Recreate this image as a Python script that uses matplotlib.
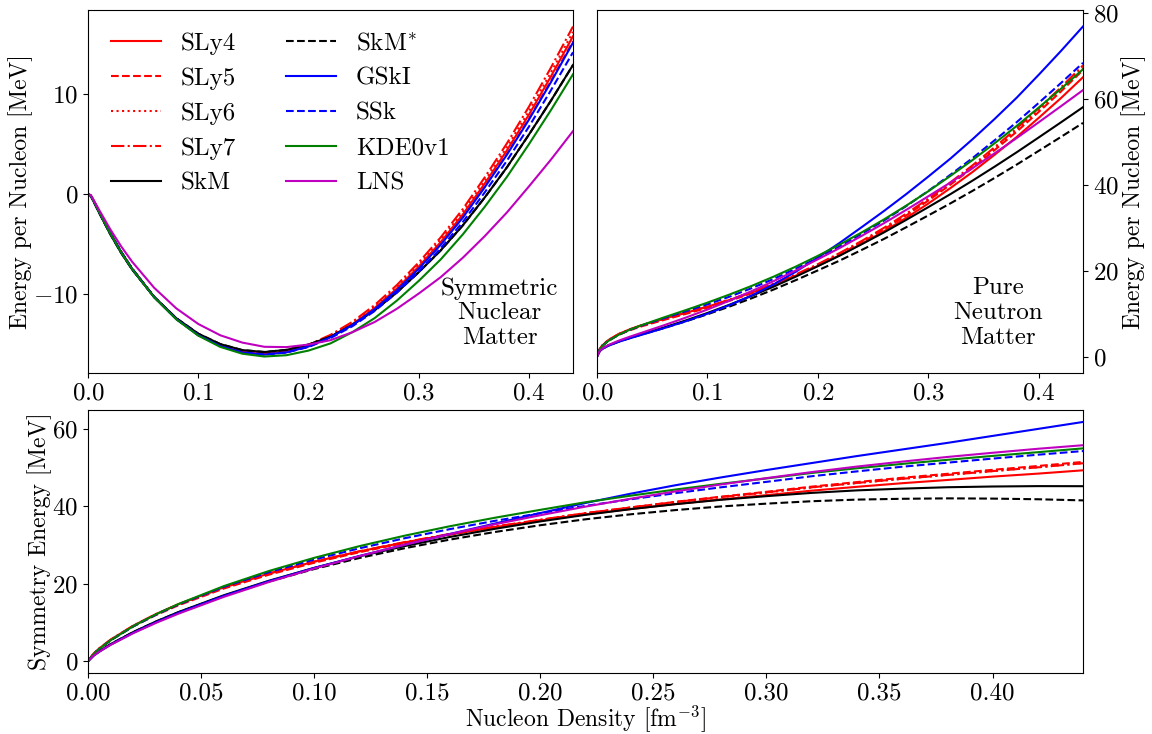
"""
Skyrme EOS comparison: symmetric matter, neutron matter, symmetry energy
"""

import matplotlib
matplotlib.use("Agg")
import matplotlib.pyplot as plt

plt.rcParams["font.family"] = "serif"
plt.rcParams["font.serif"] = ["cmr10"]
plt.rcParams["mathtext.fontset"] = "cm"
plt.rcParams["axes.formatter.use_mathtext"] = True
plt.rcParams["font.size"] = 18
plt.rcParams["axes.labelsize"] = 17

# nucleon density grid [fm^-3]
rho = [0.0, 0.0025, 0.005, 0.01, 0.02, 0.03, 0.04, 0.06, 0.08, 0.10, 0.12, 0.14, 0.16, 0.18,
       0.20, 0.22, 0.24, 0.26, 0.28, 0.30, 0.32, 0.34, 0.36, 0.38, 0.40, 0.42, 0.44]

# symmetric nuclear matter, E/A [MeV]
snm_sly4 = [0.0, -0.15, -0.66, -1.76, -3.86, -5.76, -7.45, -10.28, -12.45, -14.06, -15.15, -15.77, -15.97, -15.76,
            -15.18, -14.24, -12.98, -11.37, -9.45, -7.24, -4.79, -2.04, 1.06, 4.35, 7.92, 11.74, 15.75]
snm_sly5 = [0.0, -0.15, -0.65, -1.75, -3.84, -5.74, -7.42, -10.25, -12.42, -14.04, -15.14, -15.77, -15.98, -15.79,
            -15.23, -14.31, -13.07, -11.49, -9.60, -7.43, -5.02, -2.31, 0.75, 4.00, 7.52, 11.30, 15.27]
snm_sly6 = [0.0, -0.15, -0.66, -1.75, -3.85, -5.75, -7.44, -10.26, -12.43, -14.03, -15.12, -15.73, -15.92, -15.69,
            -15.10, -14.14, -12.86, -11.23, -9.29, -7.05, -4.57, -1.79, 1.34, 4.67, 8.27, 12.13, 16.18]
snm_sly7 = [0.0, -0.15, -0.66, -1.76, -3.86, -5.76, -7.45, -10.28, -12.45, -14.05, -15.12, -15.72, -15.89, -15.65,
            -15.03, -14.05, -12.74, -11.08, -9.10, -6.83, -4.32, -1.50, 1.68, 5.05, 8.71, 12.62, 16.72]
snm_skm = [0.0, -0.19, -0.73, -1.85, -3.97, -5.86, -7.52, -10.27, -12.38, -13.93, -14.97, -15.57, -15.76, -15.55,
           -15.02, -14.24, -13.04, -11.60, -9.83, -7.80, -5.62, -3.13, -0.33, 2.66, 5.93, 9.32, 12.88]
snm_skms = [0.0, -0.19, -0.73, -1.85, -3.97, -5.86, -7.52, -10.27, -12.38, -13.93, -14.97, -15.57, -15.76, -15.55,
            -15.02, -14.24, -13.04, -11.60, -9.83, -7.80, -5.62, -3.13, -0.33, 2.66, 5.93, 9.32, 12.88]
snm_gski = [0.0, -0.15, -0.66, -1.76, -3.86, -5.76, -7.45, -10.28, -12.46, -14.08, -15.18, -15.81, -16.02, -15.80,
            -15.21, -14.29, -13.06, -11.49, -9.61, -7.45, -5.05, -2.35, 0.69, 3.92, 7.42, 11.17, 15.11]
snm_ssk = [0.0, -0.15, -0.66, -1.76, -3.86, -5.76, -7.45, -10.28, -12.46, -14.08, -15.18, -15.80, -16.00, -15.81,
           -15.26, -14.37, -13.18, -11.67, -9.85, -7.74, -5.41, -2.79, 0.18, 3.32, 6.72, 10.36, 14.15]
snm_kde = [0.0, -0.17, -0.69, -1.79, -3.90, -5.80, -7.48, -10.30, -12.49, -14.12, -15.25, -15.93, -16.21, -16.08,
           -15.62, -14.90, -13.77, -12.38, -10.65, -8.67, -6.52, -4.03, -1.26, 1.71, 4.97, 8.38, 11.95]
snm_lns = [0.0, -0.10, -0.57, -1.56, -3.48, -5.21, -6.75, -9.35, -11.40, -12.96, -14.09, -14.82, -15.24, -15.27,
           -15.02, -14.58, -13.78, -12.77, -11.46, -9.93, -8.29, -6.36, -4.19, -1.84, 0.76, 3.44, 6.28]

# pure neutron matter, E/A [MeV]
pnm_sly4 = [0.0, 1.77, 2.61, 3.77, 5.28, 6.36, 7.24, 8.75, 10.15, 11.59, 13.16, 14.86, 16.74, 18.82,
            21.09, 23.60, 26.27, 29.16, 32.27, 35.59, 39.19, 42.93, 46.94, 51.08, 55.54, 60.11, 64.97]
pnm_sly5 = [0.0, 1.73, 2.54, 3.65, 5.10, 6.13, 6.99, 8.47, 9.88, 11.34, 12.96, 14.72, 16.68, 18.84,
            21.21, 23.82, 26.60, 29.60, 32.83, 36.28, 40.00, 43.88, 48.03, 52.32, 56.92, 61.64, 66.64]
pnm_sly6 = [0.0, 1.76, 2.59, 3.73, 5.21, 6.27, 7.13, 8.62, 10.03, 11.49, 13.09, 14.85, 16.80, 18.95,
            21.32, 23.94, 26.73, 29.75, 33.00, 36.47, 40.23, 44.15, 48.35, 52.69, 57.35, 62.14, 67.23]
pnm_sly7 = [0.0, 1.77, 2.62, 3.77, 5.27, 6.34, 7.22, 8.72, 10.14, 11.61, 13.22, 14.98, 16.95, 19.11,
            21.49, 24.12, 26.93, 29.97, 33.24, 36.73, 40.52, 44.47, 48.70, 53.08, 57.78, 62.61, 67.74]
pnm_skm = [0.0, 1.29, 1.82, 2.53, 3.53, 4.36, 5.14, 6.71, 8.36, 10.13, 12.05, 14.10, 16.27, 18.59,
           21.02, 23.50, 26.17, 28.90, 31.80, 34.76, 37.78, 40.92, 44.17, 47.52, 50.98, 54.47, 58.01]
pnm_skms = [0.0, 1.29, 1.82, 2.53, 3.51, 4.32, 5.08, 6.57, 8.15, 9.82, 11.63, 13.55, 15.59, 17.77,
            20.04, 22.35, 24.84, 27.38, 30.08, 32.83, 35.63, 38.54, 41.55, 44.65, 47.86, 51.08, 54.35]
pnm_gski = [0.0, 1.25, 1.77, 2.47, 3.45, 4.26, 5.02, 6.55, 8.17, 9.95, 11.95, 14.20, 16.79, 19.73,
            23.03, 26.49, 30.16, 33.89, 37.79, 41.87, 46.05, 50.55, 55.27, 60.22, 65.57, 71.07, 76.78]
pnm_ssk = [0.0, 1.69, 2.49, 3.59, 5.09, 6.22, 7.17, 8.87, 10.49, 12.12, 13.92, 15.90, 18.05, 20.44,
           22.95, 25.67, 28.59, 31.66, 35.00, 38.53, 42.29, 46.16, 50.31, 54.52, 59.02, 63.61, 68.32]
pnm_kde = [0.0, 1.68, 2.47, 3.58, 5.10, 6.26, 7.25, 9.04, 10.76, 12.53, 14.42, 16.42, 18.59, 20.92,
           23.42, 26.09, 28.92, 31.92, 35.11, 38.46, 42.02, 45.71, 49.62, 53.65, 57.92, 62.27, 66.84]
pnm_lns = [0.0, 1.32, 1.88, 2.64, 3.72, 4.63, 5.49, 7.21, 9.01, 10.93, 13.00, 15.21, 17.54, 20.03,
           22.62, 25.28, 28.12, 31.04, 34.12, 37.28, 40.48, 43.83, 47.28, 50.83, 54.51, 58.22, 61.98]

# symmetry energy [MeV]
sym_sly4 = [0.0, 1.92, 3.27, 5.53, 9.14, 12.12, 14.69, 19.03, 22.60, 25.65, 28.31, 30.63, 32.70, 34.57,
            36.25, 37.86, 39.24, 40.55, 41.72, 42.82, 43.98, 44.97, 45.90, 46.73, 47.60, 48.37, 49.23]
sym_sly5 = [0.0, 1.88, 3.19, 5.40, 8.94, 11.87, 14.41, 18.72, 22.30, 25.38, 28.10, 30.49, 32.65, 34.60,
            36.40, 38.15, 39.65, 41.11, 42.43, 43.69, 45.02, 46.19, 47.30, 48.32, 49.35, 50.34, 51.40]
sym_sly6 = [0.0, 1.91, 3.25, 5.48, 9.06, 12.02, 14.57, 18.88, 22.46, 25.52, 28.21, 30.58, 32.71, 34.61,
            36.38, 38.10, 39.57, 41.00, 42.29, 43.50, 44.80, 45.94, 47.03, 48.02, 49.03, 50.01, 51.08]
sym_sly7 = [0.0, 1.92, 3.28, 5.53, 9.13, 12.10, 14.67, 19.00, 22.59, 25.66, 28.34, 30.70, 32.83, 34.73,
            36.48, 38.19, 39.65, 41.07, 42.34, 43.54, 44.84, 45.97, 47.04, 48.03, 49.02, 49.99, 51.05]
sym_skm = [0.0, 1.48, 2.55, 4.38, 7.50, 10.22, 12.66, 16.98, 20.74, 24.06, 27.02, 29.67, 32.03, 34.14,
           36.04, 37.74, 39.21, 40.50, 41.63, 42.56, 43.40, 44.05, 44.50, 44.86, 45.05, 45.15, 45.13]
sym_skms = [0.0, 1.48, 2.55, 4.38, 7.48, 10.18, 12.60, 16.84, 20.53, 23.75, 26.60, 29.12, 31.35, 33.32,
            35.06, 36.59, 37.88, 38.98, 39.91, 40.63, 41.25, 41.67, 41.88, 41.99, 41.93, 41.76, 41.47]
sym_gski = [0.0, 1.40, 2.43, 4.23, 7.31, 10.02, 12.47, 16.83, 20.63, 24.03, 27.13, 30.01, 32.80, 35.50,
            38.20, 40.80, 43.20, 45.40, 47.40, 49.30, 51.10, 52.90, 54.60, 56.30, 58.10, 59.90, 61.70]
sym_ssk = [0.0, 1.84, 3.15, 5.35, 8.95, 11.98, 14.62, 19.15, 22.95, 26.20, 29.10, 31.70, 34.05, 36.20,
           38.15, 40.05, 41.75, 43.35, 44.85, 46.25, 47.70, 48.95, 50.15, 51.20, 52.25, 53.25, 54.20]
sym_kde = [0.0, 1.84, 3.16, 5.38, 9.01, 12.06, 14.73, 19.34, 23.25, 26.64, 29.66, 32.36, 34.80, 37.00,
           39.03, 40.99, 42.69, 44.29, 45.76, 47.13, 48.54, 49.75, 50.88, 51.93, 52.94, 53.90, 54.89]
sym_lns = [0.0, 1.42, 2.45, 4.20, 7.20, 9.84, 12.24, 16.56, 20.41, 23.89, 27.09, 30.03, 32.78, 35.30,
           37.64, 39.86, 41.90, 43.81, 45.58, 47.21, 48.77, 50.19, 51.47, 52.67, 53.75, 54.78, 55.70]

labels = ["SLy4", "SLy5", "SLy6", "SLy7", "SkM", "SkM$^{*}$", "GSkI", "SSk", "KDE0v1", "LNS"]
snm = [snm_sly4, snm_sly5, snm_sly6, snm_sly7, snm_skm, snm_skms, snm_gski, snm_ssk, snm_kde, snm_lns]
pnm = [pnm_sly4, pnm_sly5, pnm_sly6, pnm_sly7, pnm_skm, pnm_skms, pnm_gski, pnm_ssk, pnm_kde, pnm_lns]
sym = [sym_sly4, sym_sly5, sym_sly6, sym_sly7, sym_skm, sym_skms, sym_gski, sym_ssk, sym_kde, sym_lns]

styles = [("r", "-"), ("r", "--"), ("r", ":"), ("r", "-."), ("k", "-"),
          ("k", "--"), ("b", "-"), ("b", "--"), ("g", "-"), ("m", "-")]

fig = plt.figure(figsize=(11.52, 7.34), dpi=100)
ax1 = fig.add_axes([0.0764, 0.4918, 0.4210, 0.4946])
ax2 = fig.add_axes([0.5182, 0.4918, 0.4219, 0.4946])
ax3 = fig.add_axes([0.0764, 0.0830, 0.8637, 0.3584])

for lab, (c, ls), e_snm, e_pnm, e_sym in zip(labels, styles, snm, pnm, sym):
    ax1.plot(rho, e_snm, color=c, linestyle=ls, linewidth=1.5, label=lab)
    ax2.plot(rho, e_pnm, color=c, linestyle=ls, linewidth=1.5)
    ax3.plot(rho, e_sym, color=c, linestyle=ls, linewidth=1.5)

for ax in (ax1, ax2, ax3):
    ax.set_xlim(0, 0.44)

ax1.set_xticks([0.0, 0.1, 0.2, 0.3, 0.4])
ax1.set_yticks([-10, 0, 10])
ax1.set_ylabel("Energy per Nucleon [MeV]", labelpad=0)
ax1.legend(ncol=2, frameon=False, loc="upper left")
ax1.text(0.849, 0.165, "Symmetric\nNuclear\nMatter", transform=ax1.transAxes,
         ha="center", va="center", multialignment="center", linespacing=1.15)

ax2.set_xticks([0.0, 0.1, 0.2, 0.3, 0.4])
ax2.set_yticks([0, 20, 40, 60, 80])
ax2.yaxis.tick_right()
ax2.yaxis.set_label_position("right")
ax2.set_ylabel("Energy per Nucleon [MeV]", labelpad=2)
ax2.text(0.825, 0.165, "Pure\nNeutron\nMatter", transform=ax2.transAxes,
         ha="center", va="center", multialignment="center", linespacing=1.15)

ax3.set_xticks([0.0, 0.05, 0.10, 0.15, 0.20, 0.25, 0.30, 0.35, 0.40])
ax3.set_xticklabels(["0.00", "0.05", "0.10", "0.15", "0.20", "0.25", "0.30", "0.35", "0.40"])
ax3.set_yticks([0, 20, 40, 60])
ax3.set_xlabel("Nucleon Density [fm$^{-3}$]", labelpad=-1)
ax3.set_ylabel("Symmetry Energy [MeV]", labelpad=0)

fig.savefig("out.png", dpi=100)
